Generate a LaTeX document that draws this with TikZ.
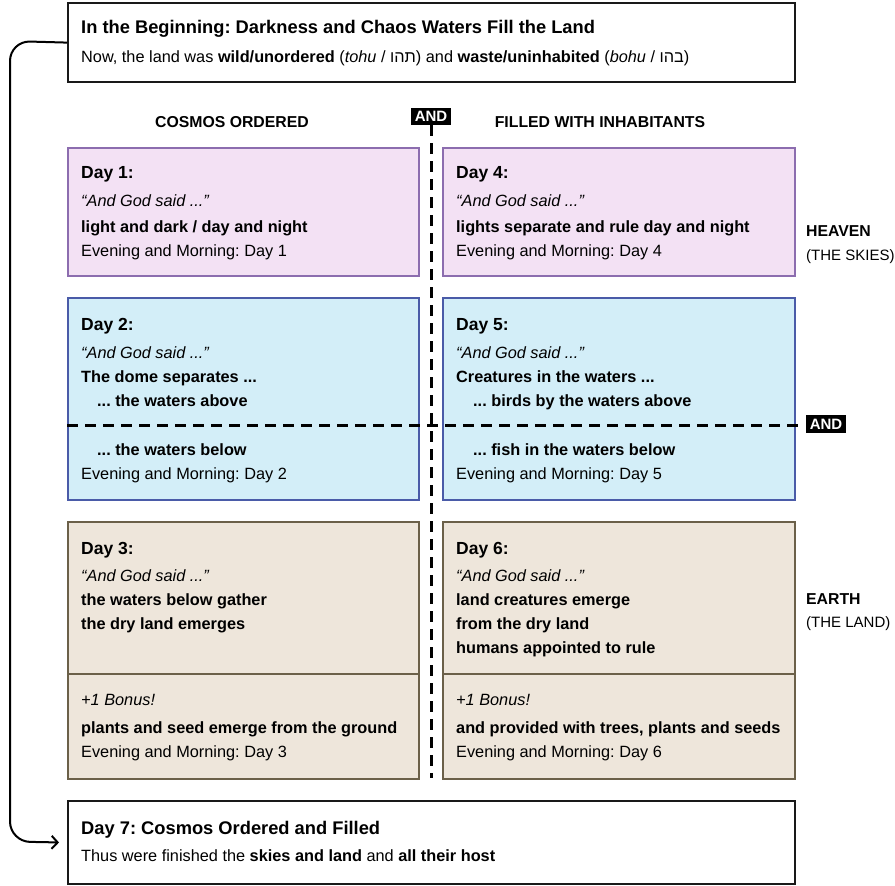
\documentclass[tikz,border=0pt]{standalone}
\usepackage{fontspec}
\setmainfont{Liberation Sans}
\TeXXeTstate=1
\frenchspacing
\usetikzlibrary{arrows.meta}
\definecolor{purfill}{HTML}{F3E1F4}
\definecolor{purline}{HTML}{8C6DAF}
\definecolor{bluefill}{HTML}{D3EEF8}
\definecolor{blueline}{HTML}{4A5BA8}
\definecolor{beigefill}{HTML}{EEE6DB}
\definecolor{beigeline}{HTML}{6B6049}
\begin{document}
\begin{tikzpicture}[x=1pt,y=-1pt,
  panel/.style={draw, inner sep=0pt, anchor=north west, line width=2pt},
  blackbox/.style={panel, draw=black!90, line width=2.2pt, fill=white},
  purbox/.style={panel, draw=purline, fill=purfill},
  bluebox/.style={panel, draw=blueline, fill=bluefill},
  beigebox/.style={panel, draw=beigeline, fill=beigefill},
  txt/.style={anchor=base west, inner sep=0pt, font=\fontsize{16.3}{19}\selectfont},
  btxt/.style={txt, font=\fontsize{16.3}{19}\selectfont\bfseries},
  itxt/.style={txt, font=\fontsize{16.3}{19}\selectfont\itshape},
  daytxt/.style={txt, font=\fontsize{17.5}{20}\selectfont\bfseries},
  ttl/.style={txt, font=\fontsize{18.3}{21}\selectfont\bfseries},
  hdr/.style={anchor=base, inner sep=0pt, font=\fontsize{15.8}{18}\selectfont\bfseries},
  side/.style={txt, font=\fontsize{15.8}{18}\selectfont\bfseries},
  sidesub/.style={txt, font=\fontsize{15}{18}\selectfont},
  andlbl/.style={fill=black, text=white, font=\fontsize{15}{17}\selectfont\bfseries, inner xsep=3.5pt, inner ysep=3.5pt},
  dashline/.style={line width=3pt, dash pattern=on 11pt off 7pt},
  connector/.style={line width=2pt, rounded corners=20pt, -{Straight Barb[length=6pt,width=13pt,line width=2pt]}},
]
\useasboundingbox[fill=white] (0,0) rectangle (895,886);

% top box
\node[blackbox, minimum width=727pt, minimum height=79pt] (top) at (67,2) {};
\node[ttl] (toptitle) at (81,34) {In the Beginning: Darkness and Chaos Waters Fill the Land};
\node[txt] (topline) at (81,62) {Now, the land was \textbf{wild/unordered} (\textit{tohu} / \beginR תהו\endR) and \textbf{waste/uninhabited} (\textit{bohu} / \beginR בהו\endR)};

% headers
\node[hdr] (hleft) at (232,127) {COSMOS ORDERED};
\node[hdr] (hright) at (600,127) {FILLED WITH INHABITANTS};
\node[andlbl] (and1) at (431,116.5) {AND};

% day boxes
\node[purbox, minimum width=351pt, minimum height=128pt] (d1) at (67,147) {};
\node[purbox, minimum width=352pt, minimum height=128pt] (d4) at (442,147) {};
\node[bluebox, minimum width=351pt, minimum height=202pt] (d2) at (67,297) {};
\node[bluebox, minimum width=352pt, minimum height=202pt] (d5) at (442,297) {};
\node[beigebox, minimum width=351pt, minimum height=257pt] (d3) at (67,521) {};
\node[beigebox, minimum width=352pt, minimum height=257pt] (d6) at (442,521) {};
\coordinate (d3l) at (67,674);
\coordinate (d3r) at (418,674);
\coordinate (d6l) at (442,674);
\coordinate (d6r) at (794,674);
\draw[line width=2pt, draw=beigeline] (d3l) -- (d3r);
\draw[line width=2pt, draw=beigeline] (d6l) -- (d6r);

% Day 1
\node[daytxt] (t1a) at (81,178) {Day 1:};
\node[itxt] (t1b) at (81,206) {“And God said ...”};
\node[btxt] (t1c) at (81,232) {light and dark / day and night};
\node[txt] (t1d) at (81,256) {Evening and Morning: Day 1};
% Day 4
\node[daytxt] (t4a) at (456,178) {Day 4:};
\node[itxt] (t4b) at (456,206) {“And God said ...”};
\node[btxt] (t4c) at (456,232) {lights separate and rule day and night};
\node[txt] (t4d) at (456,256) {Evening and Morning: Day 4};
% Day 2
\node[daytxt] (t2a) at (81,330) {Day 2:};
\node[itxt] (t2b) at (81,358) {“And God said ...”};
\node[btxt] (t2c) at (81,382) {The dome separates ...};
\node[btxt] (t2d) at (97,406) {... the waters above};
\node[btxt] (t2e) at (97,455) {... the waters below};
\node[txt] (t2f) at (81,479) {Evening and Morning: Day 2};
% Day 5
\node[daytxt] (t5a) at (456,330) {Day 5:};
\node[itxt] (t5b) at (456,358) {“And God said ...”};
\node[btxt] (t5c) at (456,382) {Creatures in the waters ...};
\node[btxt] (t5d) at (473,406) {... birds by the waters above};
\node[btxt] (t5e) at (473,455) {... fish in the waters below};
\node[txt] (t5f) at (456,479) {Evening and Morning: Day 5};
% Day 3
\node[daytxt] (t3a) at (81,554) {Day 3:};
\node[itxt] (t3b) at (81,581) {“And God said ...”};
\node[btxt] (t3c) at (81,605) {the waters below gather};
\node[btxt] (t3d) at (81,629) {the dry land emerges};
\node[itxt] (t3e) at (81,705) {+1 Bonus!};
\node[btxt] (t3f) at (81,733) {plants and seed emerge from the ground};
\node[txt] (t3g) at (81,757) {Evening and Morning: Day 3};
% Day 6
\node[daytxt] (t6a) at (456,554) {Day 6:};
\node[itxt] (t6b) at (456,581) {“And God said ...”};
\node[btxt] (t6c) at (456,605) {land creatures emerge};
\node[btxt] (t6d) at (456,629) {from the dry land};
\node[btxt] (t6e) at (456,653) {humans appointed to rule};
\node[itxt] (t6f) at (456,705) {+1 Bonus!};
\node[btxt] (t6g) at (456,733) {and provided with trees, plants and seeds};
\node[txt] (t6h) at (456,757) {Evening and Morning: Day 6};

% side labels
\node[side] (heaven) at (806,236) {HEAVEN};
\node[sidesub] (skies) at (806,260) {(THE SKIES)};
\node[side] (earth) at (806,604) {EARTH};
\node[sidesub] (land) at (806,627) {(THE LAND)};
\node[andlbl] (and2) at (826,424) {AND};

% dashed dividers
\coordinate (vend) at (431,778);
\draw[dashline] (and1.south) -- (vend);
\coordinate (hl) at (67,425);
\coordinate (hr) at (798,425);
\draw[dashline] (hl) -- (hr);

% Day 7
\node[blackbox, minimum width=727pt, minimum height=83pt] (d7) at (67,800) {};
\node[ttl] (d7a) at (81,834) {Day 7: Cosmos Ordered and Filled};
\node[txt] (d7b) at (81,861) {Thus were finished the \textbf{skies and land} and \textbf{all their host}};

% connector
\coordinate (c1) at (10,41);
\coordinate (c2) at (10,841.5);
\draw[connector, shorten >=8pt] (top.west) -- (c1) -- (c2) -- (d7.west);
\end{tikzpicture}
\end{document}
